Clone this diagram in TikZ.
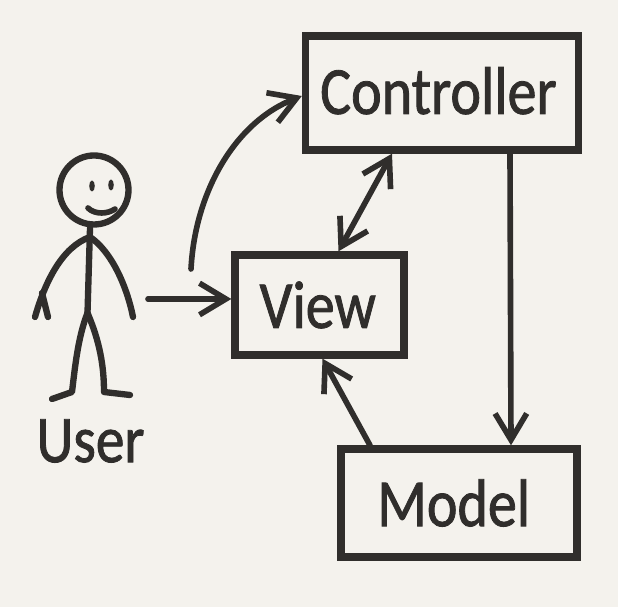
\documentclass[tikz,border=0pt]{standalone}
\usepackage{fontspec}
\newfontfamily\sketchfont[FakeStretch=0.86,RawFeature={embolden=1.2}]{Carlito}
\usetikzlibrary{arrows.meta}
\definecolor{paper}{HTML}{F4F2ED}
\definecolor{ink}{HTML}{302E2C}
\tikzset{
	box/.style={draw=ink,line width=2.1pt,text=ink,inner sep=0pt,font=\sketchfont\fontsize{19.2}{20}\selectfont},
	stroke/.style={draw=ink,line width=1.6pt,line cap=round,line join=round},
	figure/.style={stroke,line width=1.8pt},
	tip/.tip={Straight Barb[length=7.5pt,width=9pt,line width=1.6pt]},
	arrow/.style={stroke,-tip},
	twoway/.style={stroke,tip-tip}
}
\begin{document}
\begin{tikzpicture}
	\fill[paper] (0,0) rectangle (6.18,6.07);
	\useasboundingbox (0,0) rectangle (6.18,6.07);
	\node[box,minimum width=2.73cm,minimum height=1.14cm] (controller) at (4.42,5.14) {\raisebox{1.4pt}{\kern-2pt Controller}};
	\node[box,minimum width=1.69cm,minimum height=1cm] (view) at (3.195,3.02) {\kern-1pt View};
	\node[box,minimum width=2.36cm,minimum height=1.08cm] (model) at (4.59,1.04) {\kern-3pt Model};
	\node[figure,circle,minimum size=0.69cm,inner sep=0pt] (head) at (0.94,4.17) {};
	\node[text=ink,font=\sketchfont\fontsize{19}{20}\selectfont] (user) at (0.905,1.66) {User};
	\coordinate (curvestart) at (1.91,3.38);
	\coordinate (handright) at (1.48,3.08);
	\coordinate (neck) at (0.90,3.79);
	\coordinate (hip) at (0.875,2.94);
	\draw[arrow] (curvestart) .. controls (1.95,4.15) and (2.35,4.85) .. ([yshift=-0.03cm]controller.west);
	\draw[arrow] (handright) -- ([yshift=0.06cm]view.west);
	\draw[twoway] ([xshift=-0.5cm]controller.south) -- ([xshift=0.19cm]view.north);
	\draw[arrow] ([xshift=0.68cm]controller.south) -- ([xshift=0.52cm]model.north);
	\draw[arrow] ([xshift=-0.89cm]model.north) -- ([xshift=0.03cm]view.south);
	\draw[figure] (neck) -- (hip);
	\draw[figure] (0.90,3.70) .. controls (0.62,3.60) and (0.45,3.25) .. (0.35,2.90);
	\draw[figure] (0.42,3.14) -- (0.48,2.90);
	\draw[figure] (0.90,3.70) .. controls (1.12,3.55) and (1.27,3.20) .. (1.33,2.90);
	\draw[figure] (hip) .. controls (0.78,2.70) and (0.75,2.40) .. (0.72,2.15) -- (0.52,2.08);
	\draw[figure] (hip) .. controls (1.00,2.65) and (1.04,2.40) .. (1.04,2.15) -- (1.30,2.12);
	\fill[ink] (0.92,4.21) ellipse (0.028 and 0.055);
	\fill[ink] (1.11,4.22) ellipse (0.028 and 0.055);
	\draw[stroke] (0.88,3.99) .. controls (0.95,3.92) and (1.08,3.93) .. (1.15,3.98);
\end{tikzpicture}
\end{document}
